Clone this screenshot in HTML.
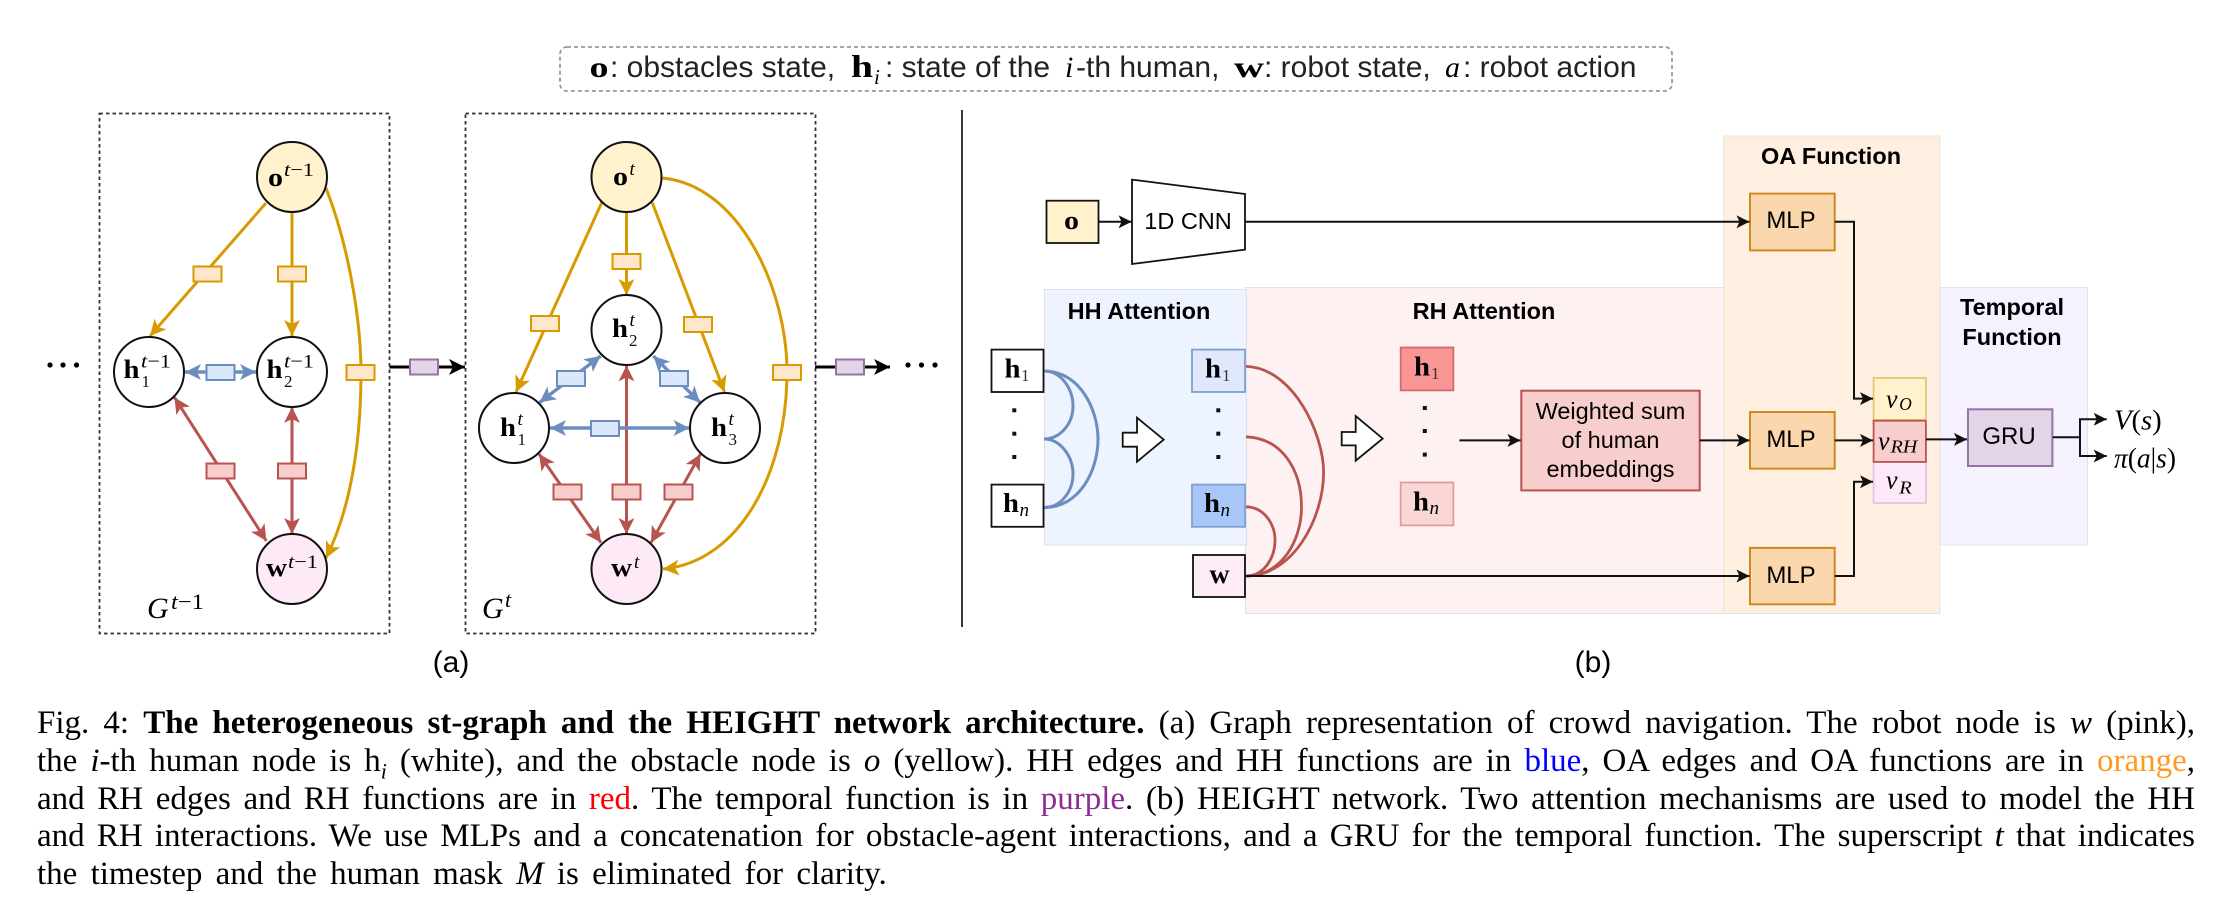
<!DOCTYPE html>
<html><head><meta charset="utf-8"><style>
html,body{margin:0;padding:0;background:#fff;width:2220px;height:904px;overflow:hidden}
svg{position:absolute;left:0;top:0}
.c{position:absolute;left:37px;width:2158px;font:33px/38px "Liberation Serif",serif;color:#000;text-align:justify;text-align-last:justify}
.c.l{text-align-last:left;word-spacing:5px}
.c sub{font-size:22px;line-height:0;font-style:italic}
.s{font-family:"Liberation Sans",sans-serif;fill:#000}
.b{font-family:"Liberation Serif",serif;font-weight:bold;font-size:26px;fill:#000}
.i{font-family:"Liberation Serif",serif;font-style:italic;font-size:19px;fill:#000}
.i tspan{font-style:normal}
.n{font-family:"Liberation Serif",serif;font-size:17px;fill:#111}
.m{font-family:"Liberation Serif",serif;font-style:italic;fill:#000}
.m tspan{font-style:normal}
.o{fill:#ffe6cc;stroke:#d79b00;stroke-width:2}
.u{fill:#dae8fc;stroke:#6c8ebf;stroke-width:2}
.r{fill:#f8cecc;stroke:#b85450;stroke-width:2}
.p{fill:#e1d5e7;stroke:#9673a6;stroke-width:2}
.mlp{fill:#fad7ac;stroke:#cf8a1f;stroke-width:2}
</style></head><body>
<svg width="2220" height="904" viewBox="0 0 2220 904" xmlns="http://www.w3.org/2000/svg">
<defs>
<marker id="ao" markerUnits="userSpaceOnUse" markerWidth="20" markerHeight="20" refX="16" refY="8" orient="auto-start-reverse"><path d="M0,0L16,8L0,16L4,8z" fill="#d79b00"/></marker>
<marker id="au" markerUnits="userSpaceOnUse" markerWidth="20" markerHeight="20" refX="16" refY="8" orient="auto-start-reverse"><path d="M0,0L16,8L0,16L4,8z" fill="#6c8ebf"/></marker>
<marker id="ar" markerUnits="userSpaceOnUse" markerWidth="20" markerHeight="20" refX="16" refY="8" orient="auto-start-reverse"><path d="M0,0L16,8L0,16L4,8z" fill="#b85450"/></marker>
<marker id="ak" markerUnits="userSpaceOnUse" markerWidth="20" markerHeight="20" refX="16" refY="8" orient="auto"><path d="M0,0L16,8L0,16L4,8z" fill="#000"/></marker>
<marker id="at" markerUnits="userSpaceOnUse" markerWidth="16" markerHeight="16" refX="13" refY="6.5" orient="auto"><path d="M0,0L13,6.5L0,13L3,6.5z" fill="#111"/></marker>
</defs>

<rect x="560" y="47" width="1112" height="44" rx="7" fill="#fff" stroke="#999" stroke-width="1.8" stroke-dasharray="4 3"/>
<text class="b" x="589.5" y="77" style="font-size:30px" textLength="19" lengthAdjust="spacingAndGlyphs">o</text>
<text class="s" x="610" y="77" font-size="30" style="fill:#222">: obstacles state,</text>
<text class="b" x="851" y="77" style="font-size:32px" textLength="22" lengthAdjust="spacingAndGlyphs">h</text>
<text class="i" x="874" y="84" style="font-size:21px">i</text>
<text class="s" x="885" y="77" font-size="30" style="fill:#222">: state of the</text>
<text class="m" x="1065" y="77" style="font-size:30px">i</text>
<text class="s" x="1076" y="77" font-size="30" style="fill:#222">-th human,</text>
<text class="b" x="1234" y="77" style="font-size:30px" textLength="30" lengthAdjust="spacingAndGlyphs">w</text>
<text class="s" x="1264" y="77" font-size="30" style="fill:#222">: robot state,</text>
<text class="m" x="1445" y="77" style="font-size:30px">a</text>
<text class="s" x="1463" y="77" font-size="30" style="fill:#222">: robot action</text>

<rect x="99.5" y="113.5" width="290" height="520" fill="none" stroke="#333" stroke-width="1.8" stroke-dasharray="3.5 3"/>
<rect x="465.5" y="113.5" width="350" height="520" fill="none" stroke="#333" stroke-width="1.8" stroke-dasharray="3.5 3"/>

<g fill="none" stroke-width="3">
<g stroke="#d79b00">
<path d="M266,203L150,336" marker-end="url(#ao)"/>
<path d="M292,212V336" marker-end="url(#ao)"/>
<path d="M326,188C352,255 361,330 361,372C361,445 350,510 326,558" marker-end="url(#ao)"/>
<path d="M602,202L516,392" marker-end="url(#ao)"/>
<path d="M626.5,212V295" marker-end="url(#ao)"/>
<path d="M652,202L724.5,392" marker-end="url(#ao)"/>
<path d="M662,178C740,185 787,290 787,372C787,472 740,562 663,569" marker-end="url(#ao)"/>
</g>
<g stroke="#6c8ebf" stroke-width="3.4">
<path d="M185,372H256" marker-start="url(#au)" marker-end="url(#au)"/>
<path d="M539.5,402.5L600.7,356" marker-start="url(#au)" marker-end="url(#au)"/>
<path d="M653.4,356L700,402.5" marker-start="url(#au)" marker-end="url(#au)"/>
</g>
<g stroke="#b85450">
<path d="M174.5,397.4L266.4,541" marker-start="url(#ar)" marker-end="url(#ar)"/>
<path d="M292,407V534" marker-start="url(#ar)" marker-end="url(#ar)"/>
<path d="M626.5,365.4V534" marker-start="url(#ar)" marker-end="url(#ar)"/>
<path d="M539,454L601,542.6" marker-start="url(#ar)" marker-end="url(#ar)"/>
<path d="M700.5,454L651,542.6" marker-start="url(#ar)" marker-end="url(#ar)"/>
</g>
<path d="M550,428H689.5" stroke="#6c8ebf" stroke-width="3.4" marker-start="url(#au)" marker-end="url(#au)"/>
</g>

<g stroke="#111" stroke-width="2">
<circle cx="292" cy="177" r="35" fill="#fff2cc"/>
<circle cx="149" cy="372" r="35" fill="#fff"/>
<circle cx="292" cy="372" r="35" fill="#fff"/>
<circle cx="292" cy="569" r="35" fill="#fdeaf6"/>
<circle cx="626.5" cy="177" r="35" fill="#fff2cc"/>
<circle cx="626.5" cy="330" r="35" fill="#fff"/>
<circle cx="514" cy="428" r="35" fill="#fff"/>
<circle cx="725" cy="428" r="35" fill="#fff"/>
<circle cx="626.5" cy="569" r="35" fill="#fdeaf6"/>
</g>

<g>
<rect class="o" x="193.5" y="266.5" width="28" height="15"/>
<rect class="o" x="278" y="266.5" width="28" height="15"/>
<rect class="o" x="346.5" y="365" width="28" height="15"/>
<rect class="o" x="612.5" y="254" width="28" height="15"/>
<rect class="o" x="531" y="316" width="28" height="15"/>
<rect class="o" x="684" y="317" width="28" height="15"/>
<rect class="o" x="773" y="365" width="28" height="15"/>
<rect class="u" x="206.5" y="365" width="28" height="15"/>
<rect class="u" x="557" y="371" width="28" height="15"/>
<rect class="u" x="660" y="371" width="28" height="15"/>
<rect class="u" x="591" y="421" width="28" height="15"/>
<rect class="r" x="206.5" y="463.5" width="28" height="15"/>
<rect class="r" x="278" y="463.5" width="28" height="15"/>
<rect class="r" x="553.5" y="484.5" width="28" height="15"/>
<rect class="r" x="612.5" y="484.5" width="28" height="15"/>
<rect class="r" x="664.5" y="484.5" width="28" height="15"/>
</g>

<path d="M389.5,367H465" stroke="#000" stroke-width="3" marker-end="url(#ak)" fill="none"/>
<path d="M815,367H890" stroke="#000" stroke-width="3" marker-end="url(#ak)" fill="none"/>
<rect class="p" x="410" y="359.5" width="28" height="15"/>
<rect class="p" x="836" y="359.5" width="28" height="15"/>
<g fill="#000"><circle cx="50" cy="365" r="2.6"/><circle cx="63" cy="365" r="2.6"/><circle cx="76.5" cy="365" r="2.6"/><circle cx="908" cy="365" r="2.6"/><circle cx="921.5" cy="365" r="2.6"/><circle cx="935" cy="365" r="2.6"/></g>

<text class="b" x="268" y="186" textLength="15" lengthAdjust="spacingAndGlyphs">o</text><text class="i" x="284" y="176" textLength="30" lengthAdjust="spacingAndGlyphs">t<tspan>−1</tspan></text>
<text class="b" x="123.5" y="378" textLength="16" lengthAdjust="spacingAndGlyphs">h</text><text class="i" x="141" y="367.5" textLength="30" lengthAdjust="spacingAndGlyphs">t<tspan>−1</tspan></text><text class="n" x="141.5" y="387">1</text>
<text class="b" x="266.5" y="378" textLength="16" lengthAdjust="spacingAndGlyphs">h</text><text class="i" x="284" y="367.5" textLength="30" lengthAdjust="spacingAndGlyphs">t<tspan>−1</tspan></text><text class="n" x="284" y="387">2</text>
<text class="b" x="266" y="576" textLength="21" lengthAdjust="spacingAndGlyphs">w</text><text class="i" x="288" y="568" textLength="30" lengthAdjust="spacingAndGlyphs">t<tspan>−1</tspan></text>
<text class="b" x="613" y="185" textLength="15" lengthAdjust="spacingAndGlyphs">o</text><text class="i" x="629.5" y="175">t</text>
<text class="b" x="612" y="337" textLength="16" lengthAdjust="spacingAndGlyphs">h</text><text class="i" x="629.5" y="326">t</text><text class="n" x="629" y="346">2</text>
<text class="b" x="500" y="436" textLength="16" lengthAdjust="spacingAndGlyphs">h</text><text class="i" x="517.5" y="425">t</text><text class="n" x="517.5" y="445">1</text>
<text class="b" x="711" y="436" textLength="16" lengthAdjust="spacingAndGlyphs">h</text><text class="i" x="728.5" y="425">t</text><text class="n" x="728.5" y="445">3</text>
<text class="b" x="611" y="576" textLength="21" lengthAdjust="spacingAndGlyphs">w</text><text class="i" x="634" y="568">t</text>
<text class="m" x="147" y="618" style="font-size:30px">G</text><text class="i" x="171" y="609" style="font-size:22px" textLength="33" lengthAdjust="spacingAndGlyphs">t<tspan>−1</tspan></text>
<text class="m" x="482" y="618" style="font-size:30px">G</text><text class="i" x="505" y="607" style="font-size:22px">t</text>
<text class="s" x="451" y="672" text-anchor="middle" font-size="30">(a)</text>
<text class="s" x="1593" y="672" text-anchor="middle" font-size="30">(b)</text>

<path d="M962,110V627" stroke="#222" stroke-width="1.8"/>

<rect x="1245.5" y="287.5" width="478.5" height="326" fill="#fef1f1" stroke="#e4e0e0" stroke-width="1"/>
<rect x="1723.5" y="136" width="216.5" height="477.5" fill="#ffefe0" stroke="#e8e4df" stroke-width="1"/>
<rect x="1044.5" y="289.5" width="202" height="255.5" fill="#edf3ff" stroke="#dfe1e5" stroke-width="1"/>
<rect x="1940" y="287.5" width="147.5" height="257.5" fill="#f6f1ff" stroke="#e4e2e8" stroke-width="1"/>

<text class="s" x="1139" y="319" text-anchor="middle" font-size="23.5" font-weight="bold">HH Attention</text>
<text class="s" x="1484" y="319" text-anchor="middle" font-size="23.5" font-weight="bold">RH Attention</text>
<text class="s" x="1831" y="164" text-anchor="middle" font-size="23.5" font-weight="bold">OA Function</text>
<text class="s" x="2012" y="315" text-anchor="middle" font-size="23.5" font-weight="bold">Temporal</text>
<text class="s" x="2012" y="345" text-anchor="middle" font-size="23.5" font-weight="bold">Function</text>

<g fill="none" stroke="#6c8ebf" stroke-width="3">
<path d="M1044,371C1080,371 1098,410 1098,439C1098,470 1080,507.5 1044,507.5"/>
<path d="M1044,371C1062,371 1073,390 1073,406C1073,424 1060,439 1044,439"/>
<path d="M1044,439C1060,439 1073,456 1073,474C1073,490 1062,507.5 1044,507.5"/>
</g>
<g fill="none" stroke="#b85450" stroke-width="2.8">
<path d="M1246,366.4C1294,368 1323.6,435 1323.6,472C1323.6,520 1292,576 1246,576"/>
<path d="M1246,436.8C1282,438 1301.5,470 1301.5,507C1301.5,540 1282,576 1246,576"/>
<path d="M1246,506.8C1264,507 1275,524 1275,540C1275,558 1264,576 1246,576"/>
</g>

<g stroke="#111" stroke-width="1.8">
<rect x="1046.5" y="200.7" width="52" height="42.3" fill="#fff2cc"/>
<rect x="991.5" y="349.6" width="52" height="42.4" fill="#fff"/>
<rect x="991.5" y="484.6" width="52" height="42.2" fill="#fff"/>
<rect x="1193" y="555" width="52" height="42" fill="#fdebf6"/>
<path d="M1132,179.6L1245,194V249.6L1132,264z" fill="#fff"/>
</g>
<rect x="1192" y="349.6" width="53" height="42.4" fill="#dfe9fb" stroke="#7f9fcf" stroke-width="1.8"/>
<rect x="1192" y="484.6" width="53" height="42.2" fill="#a9c6f8" stroke="#7f9fcf" stroke-width="1.8"/>
<rect x="1400.7" y="347.5" width="52.7" height="42.9" fill="#f99595" stroke="#d56a6a" stroke-width="1.8"/>
<rect x="1400.7" y="482.5" width="52.7" height="42.9" fill="#f8d7d6" stroke="#e39b9b" stroke-width="1.8"/>
<rect x="1521.3" y="390.7" width="178.4" height="99.7" class="r"/>
<rect x="1750" y="193.6" width="84.7" height="56.8" class="mlp"/>
<rect x="1750" y="412" width="84.7" height="56.6" class="mlp"/>
<rect x="1750" y="547.9" width="84.7" height="56.4" class="mlp"/>
<rect x="1873.6" y="377.9" width="52.3" height="42" fill="#fff2cc" stroke="#e3c878" stroke-width="1.8"/>
<rect x="1873.6" y="462" width="52.3" height="41" fill="#fdeaf8" stroke="#e3c3e3" stroke-width="1.8"/>
<rect x="1873.6" y="420.7" width="52.3" height="41.2" fill="#f8cecc" stroke="#b85450" stroke-width="1.8"/>
<rect x="1968" y="409.3" width="84.4" height="56.7" class="p"/>

<g fill="none" stroke="#111" stroke-width="2">
<path d="M1098.6,221.8H1131.6" marker-end="url(#at)"/>
<path d="M1245,221.8H1749.5" marker-end="url(#at)"/>
<path d="M1245,576H1749.5" marker-end="url(#at)"/>
<path d="M1459.4,440.4H1520.5" marker-end="url(#at)"/>
<path d="M1699.7,440.4H1749.5" marker-end="url(#at)"/>
<path d="M1834.7,221.8H1854V398.6H1873" marker-end="url(#at)"/>
<path d="M1834.7,440.4H1873" marker-end="url(#at)"/>
<path d="M1834.7,576H1854V481.8H1873" marker-end="url(#at)"/>
<path d="M1926,439.4H1967" marker-end="url(#at)"/>
<path d="M2052.7,437.3H2080V419.3H2106.7" marker-end="url(#at)"/>
<path d="M2080,437.3V456H2106.7" marker-end="url(#at)"/>
</g>

<g fill="#fff" stroke="#111" stroke-width="1.8">
<path d="M1122.7,432.7H1137V417.7L1163.7,439.6L1137,461.7V446.7H1122.7z"/>
<path d="M1341.7,432H1355.7V416L1382.7,438.6L1355.7,460.7V445.4H1341.7z"/>
</g>
<g fill="#111">
<rect x="1012.3" y="408.3" width="4" height="4"/><rect x="1012.3" y="431.7" width="4" height="4"/><rect x="1012.3" y="455" width="4" height="4"/>
<rect x="1216.3" y="408.3" width="4" height="4"/><rect x="1216.3" y="431.7" width="4" height="4"/><rect x="1216.3" y="455" width="4" height="4"/>
<rect x="1422.8" y="406" width="4" height="4"/><rect x="1422.8" y="429" width="4" height="4"/><rect x="1422.8" y="452.6" width="4" height="4"/>
</g>

<text class="s" x="1188" y="229" text-anchor="middle" font-size="23.5">1D CNN</text>
<text class="s" x="1610.5" y="419" text-anchor="middle" font-size="23.5">Weighted sum</text>
<text class="s" x="1610.5" y="448" text-anchor="middle" font-size="23.5">of human</text>
<text class="s" x="1610.5" y="477" text-anchor="middle" font-size="23.5">embeddings</text>
<text class="s" x="1791" y="228" text-anchor="middle" font-size="24">MLP</text>
<text class="s" x="1791" y="447" text-anchor="middle" font-size="24">MLP</text>
<text class="s" x="1791" y="583" text-anchor="middle" font-size="24">MLP</text>
<text class="s" x="2009" y="444" text-anchor="middle" font-size="24">GRU</text>

<text class="b" x="1064" y="229" style="font-size:26px" textLength="15" lengthAdjust="spacingAndGlyphs">o</text>
<text class="b" x="1004.5" y="377.7" style="font-size:27px" textLength="16" lengthAdjust="spacingAndGlyphs">h</text><text class="n" x="1021" y="381" style="font-size:17px;fill:#333">1</text>
<text class="b" x="1003" y="512" style="font-size:27px" textLength="16" lengthAdjust="spacingAndGlyphs">h</text><text class="m" x="1019.5" y="516" style="font-size:19px">n</text>
<text class="b" x="1205" y="377.7" style="font-size:27px" textLength="16" lengthAdjust="spacingAndGlyphs">h</text><text class="n" x="1222" y="381" style="font-size:17px;fill:#333">1</text>
<text class="b" x="1204" y="512" style="font-size:27px" textLength="16" lengthAdjust="spacingAndGlyphs">h</text><text class="m" x="1220.5" y="516" style="font-size:19px">n</text>
<text class="b" x="1209.5" y="583" style="font-size:27px" textLength="20" lengthAdjust="spacingAndGlyphs">w</text>
<text class="b" x="1414" y="375.5" style="font-size:27px" textLength="16" lengthAdjust="spacingAndGlyphs">h</text><text class="n" x="1431" y="379" style="font-size:17px;fill:#333">1</text>
<text class="b" x="1413" y="510.5" style="font-size:27px" textLength="16" lengthAdjust="spacingAndGlyphs">h</text><text class="m" x="1429.5" y="514" style="font-size:19px">n</text>
<text class="m" x="1886" y="407.3" style="font-size:26px" textLength="11.5" lengthAdjust="spacingAndGlyphs">v</text><text class="m" x="1899.3" y="410" style="font-size:18px" textLength="12.5" lengthAdjust="spacingAndGlyphs">O</text>
<text class="m" x="1878" y="449.3" style="font-size:26px" textLength="11.5" lengthAdjust="spacingAndGlyphs">v</text><text class="m" x="1890.7" y="452.3" style="font-size:18px" textLength="26.6" lengthAdjust="spacingAndGlyphs">RH</text>
<text class="m" x="1886" y="488.3" style="font-size:26px" textLength="11.5" lengthAdjust="spacingAndGlyphs">v</text><text class="m" x="1899.3" y="493.3" style="font-size:18px" textLength="12.5" lengthAdjust="spacingAndGlyphs">R</text>
<text class="m" x="2114" y="429.3" style="font-size:28px" textLength="47.7" lengthAdjust="spacingAndGlyphs">V<tspan>(</tspan>s<tspan>)</tspan></text>
<text class="m" x="2114" y="467.3" style="font-size:28px" textLength="62" lengthAdjust="spacingAndGlyphs">π<tspan>(</tspan>a<tspan>|</tspan>s<tspan>)</tspan></text>
</svg>

<div class="c" style="top:704px">Fig. 4: <b>The heterogeneous st-graph and the HEIGHT network architecture.</b> (a) Graph representation of crowd navigation. The robot node is <i>w</i> (pink),</div>
<div class="c" style="top:742px">the <i>i</i>-th human node is h<sub>i</sub> (white), and the obstacle node is <i>o</i> (yellow). HH edges and HH functions are in <span style="color:#00f">blue</span>, OA edges and OA functions are in <span style="color:#ff9a1f">orange</span>,</div>
<div class="c" style="top:780px">and RH edges and RH functions are in <span style="color:#f00">red</span>. The temporal function is in <span style="color:#8e2c94">purple</span>. (b) HEIGHT network. Two attention mechanisms are used to model the HH</div>
<div class="c" style="top:817px">and RH interactions. We use MLPs and a concatenation for obstacle-agent interactions, and a GRU for the temporal function. The superscript <i>t</i> that indicates</div>
<div class="c l" style="top:855px">the timestep and the human mask <i>M</i> is eliminated for clarity.</div>
</body></html>
